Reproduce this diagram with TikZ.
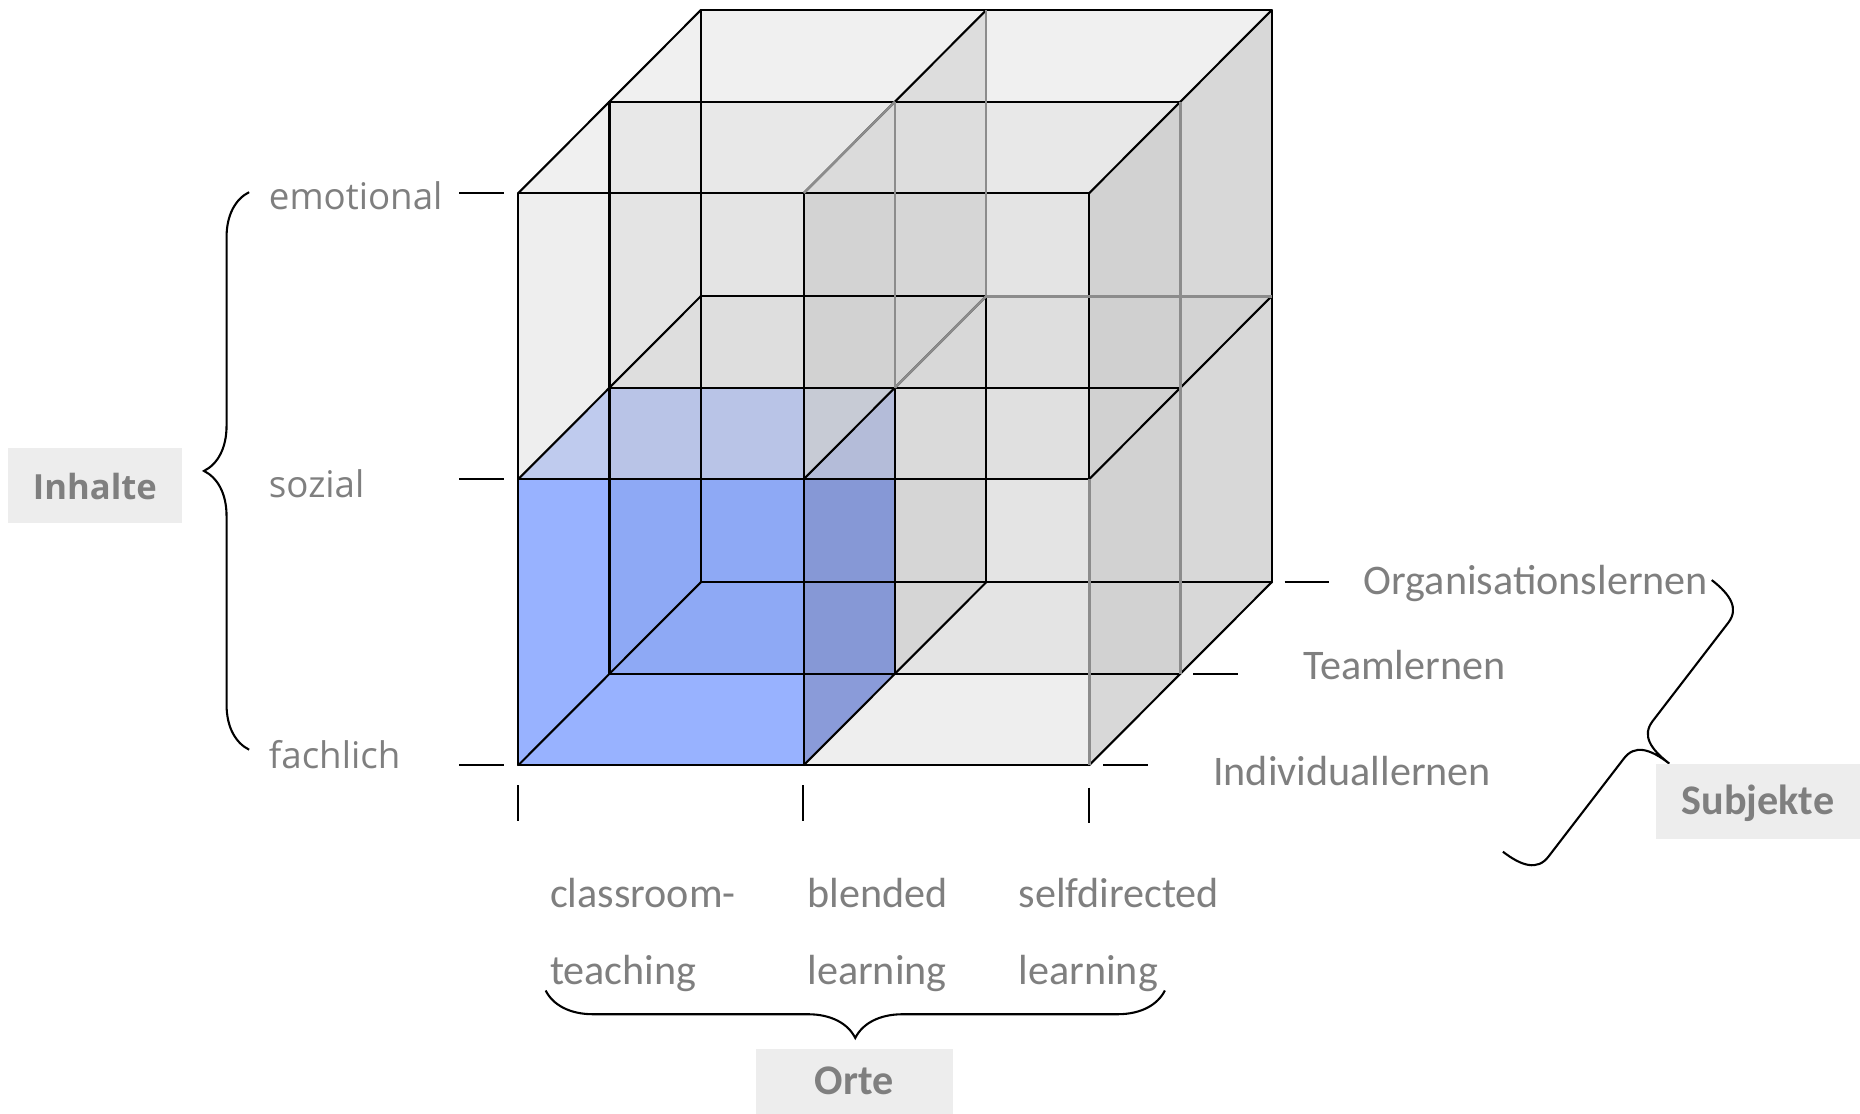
\documentclass[tikz,border=0pt]{standalone}
\usepackage{fontspec}
\setmainfont{Carlito}
\newfontfamily\sidefont{Open Sans}
\usetikzlibrary{decorations.pathreplacing}

\definecolor{txtgray}{RGB}{127,127,127}
\definecolor{boxgray}{RGB}{237,237,237}
\definecolor{frontgray}{RGB}{214,214,214}
\definecolor{topgray}{RGB}{227,227,227}
\definecolor{sidegray}{RGB}{200,200,200}
\definecolor{cellblue}{RGB}{36,91,255}
\definecolor{cellbluedark}{RGB}{12,55,204}

% faces of one cell of the 2x2x2 block: column, row, depth; the option picks the face styles
\newcommand{\gridcell}[4][grey]{%
  \fill[#1 front] (#2,#3,#4) -- (#2+1,#3,#4) -- (#2+1,#3+1,#4) -- (#2,#3+1,#4) -- cycle;
  \fill[#1 top] (#2,#3+1,#4) -- (#2+1,#3+1,#4) -- (#2+1,#3+1,#4+1) -- (#2,#3+1,#4+1) -- cycle;
  \fill[#1 side] (#2+1,#3,#4) -- (#2+1,#3,#4+1) -- (#2+1,#3+1,#4+1) -- (#2+1,#3+1,#4) -- cycle;
}

\begin{document}
\begin{tikzpicture}[x=0.01cm, y=-0.01cm,
  edge/.style={draw=black, line width=0.5pt, line cap=round},
  faint/.style={draw=black!45, line width=0.6pt},
  grey front/.style={fill=frontgray, fill opacity=0.41},
  grey top/.style={fill=topgray, fill opacity=0.53},
  grey side/.style={fill=sidegray, fill opacity=0.71},
  blue front/.style={fill=cellblue, fill opacity=0.47},
  blue top/.style={fill=cellblue, fill opacity=0.36},
  blue side/.style={fill=cellbluedark, fill opacity=0.7},
  tick/.style={line width=0.5pt},
  curly/.style={decorate, decoration={brace, amplitude=#1}, line width=0.5pt},
  rowlab/.style={font=\sidefont\fontsize{8.8}{10}\selectfont, text=txtgray, inner sep=0pt, anchor=base west},
  entry/.style={font=\fontsize{10.1}{12}\selectfont, text=txtgray, inner sep=0pt, anchor=base west},
  axisbox/.style={fill=boxgray, text=txtgray, inner sep=0pt, text height=0.64em, text depth=0pt}]
  \useasboundingbox (0,0) rectangle (1568,939);

  % the block of eight cells, back layer first
  \begin{scope}[shift={(437,645)}, x={(2.405cm,0cm)}, y={(0cm,2.41cm)}, z={(0.768cm,0.77cm)}]
    \gridcell{0}{0}{1}
    \gridcell{1}{0}{1}
    \gridcell{0}{1}{1}
    \gridcell{1}{1}{1}
    \gridcell[blue]{0}{0}{0}
    \gridcell{1}{0}{0}
    \gridcell{0}{1}{0}
    \gridcell{1}{1}{0}
    % grid lines
    \foreach \a in {0,1,2} {
      \foreach \b in {0,1,2} {
        \draw[edge] (0,\a,\b) -- (2,\a,\b);
        \draw[edge] (\a,0,\b) -- (\a,2,\b);
        \draw[edge] (\a,\b,0) -- (\a,\b,2);
      }
    }
    \draw[faint] (1,1,1) -- (1,2,1) (1,1,2) -- (1,2,2) (1,1,2) -- (2,1,2);
    \draw[faint] (2,0,1) -- (2,2,1) (2,0,0) -- (2,1,0);
    \draw[faint] (1,2,0) -- (1,2,1) (1,1,1) -- (1,1,2);
  \end{scope}

  % Inhalte
  \node[rowlab] (emo) at (226,177) {emotional};
  \node[rowlab] (soz) at (226,419) {sozial};
  \node[rowlab] (fach) at (226,648) {fachlich};
  \draw[tick] (387,163) -- (425,163) (387,404) -- (425,404) (387,645) -- (425,645);
  \draw[curly=0.38cm] (210,632) -- (210,162);
  \node[axisbox, minimum width=1.46cm, minimum height=0.63cm, font=\sidefont\bfseries\fontsize{8.3}{10}\selectfont] (inh) at (80,409.5) {Inhalte};

  % Orte
  \draw[tick] (437,662) -- (437,692) (677,662) -- (677,692) (918,664) -- (918,694);
  \node[entry] (cls) at (463,765) {classroom-};
  \node[entry] (tea) at (463,830) {teaching};
  \node[entry] (bld) at (680,765) {blended};
  \node[entry] (bll) at (680,830) {learning};
  \node[entry] (sdr) at (858,765) {selfdirected};
  \node[entry] (sdl) at (858,830) {learning};
  \draw[curly=0.4cm] (982,835) -- (460,835);
  \node[axisbox, minimum width=1.66cm, minimum height=0.55cm, font=\bfseries\fontsize{10.1}{12}\selectfont] (ort) at (720,911.5) {Orte};

  % Subjekte
  \draw[tick] (1083,491) -- (1120,491) (1006,568) -- (1044,568) (930,645) -- (968,645);
  \node[entry] (org) at (1149,501) {Organisationslernen};
  \node[entry] (team) at (1098,573) {Teamlernen};
  \node[entry] (ind) at (1022,662) {Individuallernen};
  \begin{scope}[shift={(1443,489)}, x={(-0.00609cm,-0.00792cm)}, y={(0.00792cm,-0.00609cm)}]
    \draw[line width=0.5pt] (0,0) .. controls (0,20) and (5,33) .. (20,33) -- (124.5,33)
      .. controls (139.5,33) and (144.5,45) .. (144.5,66)
      .. controls (144.5,45) and (149.5,33) .. (164.5,33) -- (269,33)
      .. controls (284,33) and (289,20) .. (289,0);
  \end{scope}
  \node[axisbox, minimum width=1.72cm, minimum height=0.63cm, font=\bfseries\fontsize{10.1}{12}\selectfont] (sub) at (1482,675.5) {Subjekte};
\end{tikzpicture}
\end{document}
